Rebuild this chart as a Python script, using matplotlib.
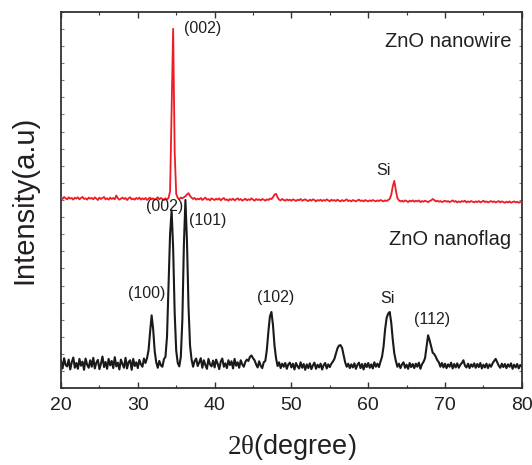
import numpy as np
import matplotlib
matplotlib.use("Agg")
import matplotlib.pyplot as plt
from matplotlib.ticker import MultipleLocator

plt.rcParams['font.family'] = ['Liberation Sans', 'DejaVu Sans']
plt.rcParams['mathtext.fontset'] = 'custom'
plt.rcParams['mathtext.rm'] = 'Liberation Serif'

# 2theta sampling (degrees), step 0.2 from 20 to 80
two_theta = np.linspace(20, 80, 301)

# ZnO nanoflag (black), intensity in arbitrary units
nanoflag = [
    80, 58, 88, 68, 64, 84, 55, 76, 90, 60,        # 20
    74, 57, 86, 66, 78, 54, 87, 69, 60, 82,        # 22
    63, 89, 58, 75, 83, 56, 72, 93, 62, 77,        # 24
    57, 86, 67, 80, 59, 91, 64, 75, 55, 84,        # 26
    71, 60, 89, 58, 77, 82, 54, 86, 65, 76,        # 28
    59, 83, 70, 63, 87, 74, 88, 112, 165, 213,     # 30
    172, 108, 76, 60, 80, 67, 63, 85, 92, 150,     # 32
    300, 450, 520, 410, 220, 110, 74, 64, 92, 200, # 34
    420, 550, 430, 240, 125, 84, 63, 80, 87, 65,   # 36
    76, 88, 60, 82, 68, 57, 86, 70, 64, 81,        # 38
    61, 84, 72, 56, 78, 87, 63, 73, 59, 82,        # 40
    68, 79, 58, 86, 66, 76, 60, 82, 70, 63,        # 42
    77, 84, 80, 92, 96, 88, 82, 70, 61, 79,        # 44
    66, 59, 76, 80, 112, 165, 210, 223, 185, 125,  # 46
    88, 65, 76, 59, 72, 63, 74, 57, 70, 75,        # 48
    61, 72, 55, 74, 64, 58, 76, 60, 71, 54,        # 50
    70, 59, 73, 56, 67, 75, 57, 69, 61, 72,        # 52
    55, 68, 74, 58, 70, 62, 72, 78, 86, 102,       # 54
    117, 125, 126, 118, 97, 76, 63, 72, 59, 70,    # 56
    61, 73, 57, 69, 75, 59, 71, 55, 72, 62,        # 58
    74, 60, 70, 58, 76, 63, 72, 62, 78, 92,        # 60
    122, 172, 206, 218, 223, 192, 142, 102, 80, 63,# 62
    72, 59, 70, 76, 60, 69, 57, 74, 62, 71,        # 64
    59, 72, 63, 75, 57, 70, 77, 88, 122, 155,      # 66
    140, 122, 104, 100, 92, 82, 76, 63, 74, 61,    # 68
    72, 59, 70, 63, 75, 58, 71, 61, 73, 60,        # 70
    69, 74, 82, 66, 61, 72, 59, 70, 63, 73,        # 72
    60, 71, 62, 74, 58, 69, 61, 72, 59, 70,        # 74
    63, 73, 80, 86, 76, 66, 60, 72, 62, 71,        # 76
    59, 70, 63, 73, 57, 69, 61, 71, 58, 68,        # 78
    64,                                            # 80
]

# ZnO nanowire (red), intensity in arbitrary units (offset stacked)
nanowire = [
    557, 553, 559, 555, 552, 558, 554, 556, 551, 557,   # 20
    554, 558, 552, 556, 559, 553, 555, 551, 557, 554,   # 22
    556, 552, 558, 554, 550, 557, 553, 556, 559, 552,   # 24
    555, 551, 557, 553, 556, 552, 563, 555, 551, 554,   # 26
    557, 553, 556, 550, 555, 558, 552, 554, 551, 556,   # 28
    553, 557, 551, 555, 552, 556, 550, 554, 557, 552,   # 30
    555, 551, 554, 558, 552, 556, 553, 550, 555, 552,   # 32
    556, 575, 820, 1050, 690, 568, 556, 553, 557, 555,  # 34
    558, 561, 566, 570, 562, 557, 553, 556, 551, 554,   # 36
    552, 556, 550, 554, 557, 551, 553, 549, 555, 552,   # 38
    550, 554, 551, 555, 549, 553, 556, 550, 552, 548,   # 40
    553, 550, 554, 549, 552, 555, 550, 553, 548, 551,   # 42
    554, 549, 552, 550, 555, 551, 548, 553, 550, 552,   # 44
    549, 553, 551, 548, 552, 550, 554, 553, 558, 566,   # 46
    568, 558, 551, 549, 553, 550, 548, 552, 549, 551,   # 48
    548, 552, 550, 547, 551, 549, 553, 548, 550, 552,   # 50
    549, 547, 551, 548, 552, 550, 546, 550, 548, 551,   # 52
    547, 550, 548, 552, 549, 546, 551, 548, 550, 547,   # 54
    551, 548, 546, 550, 547, 549, 552, 547, 549, 546,   # 56
    550, 548, 546, 549, 551, 547, 549, 546, 550, 548,   # 58
    546, 549, 547, 550, 548, 546, 549, 547, 550, 548,   # 60
    546, 549, 547, 550, 553, 565, 590, 606, 578, 556,   # 62
    549, 546, 548, 545, 549, 547, 544, 548, 546, 549,   # 64
    545, 548, 546, 549, 544, 547, 545, 548, 546, 544,   # 66
    547, 549, 553, 550, 546, 548, 545, 547, 544, 546,   # 68
    548, 545, 547, 544, 546, 549, 545, 547, 543, 546,   # 70
    544, 547, 545, 548, 543, 546, 544, 547, 545, 543,   # 72
    546, 544, 547, 543, 545, 548, 544, 546, 543, 545,   # 74
    547, 544, 546, 543, 545, 547, 543, 546, 544, 542,   # 76
    545, 543, 546, 542, 544, 546, 543, 545, 542, 544,   # 78
    543,                                                # 80
]

# Peak annotations
flag_labels = ["(100)", "(002)", "(101)", "(102)", "(112)"]
flag_label_x = [31.1, 33.5, 39.1, 47.9, 68.3]
flag_label_y = [278, 530, 491, 264, 202]
wire_labels = ["(002)"]
wire_label_x = [38.4]
wire_label_y = [1052]

text_col = '#231f20'

fig = plt.figure(figsize=(5.32, 4.65), dpi=100)
ax = fig.add_axes([0.1147, 0.1649, 0.9808 - 0.1147, 0.9748 - 0.1649])

ax.plot(two_theta, nanoflag, color='#1a1a1a', lw=1.5, zorder=2)
ax.plot(two_theta, nanowire, color='#ee1c25', lw=1.3, zorder=3)

ax.set_xlim(20, 80)
ax.set_ylim(0, 1100)

ax.xaxis.set_major_locator(MultipleLocator(10))
ax.xaxis.set_minor_locator(MultipleLocator(5))
ax.yaxis.set_major_locator(MultipleLocator(50))
ax.tick_params(axis='x', which='major', direction='in', length=4, width=1,
               top=True, labelsize=14, pad=6, colors='#333333', labelcolor=text_col)
ax.tick_params(axis='x', which='minor', direction='in', length=2.5, width=0.8,
               top=True, colors='#333333')
ax.tick_params(axis='y', which='major', direction='in', length=2, width=0.8,
               right=True, left=True, labelleft=False, colors='#777777')
for s in ax.spines.values():
    s.set_color('#333333')
    s.set_linewidth(1.3)

for lab, x, y in zip(flag_labels, flag_label_x, flag_label_y):
    ax.text(x, y, lab, ha='center', va='center', fontsize=11.5, color=text_col)
for lab, x, y in zip(wire_labels, wire_label_x, wire_label_y):
    ax.text(x, y, lab, ha='center', va='center', fontsize=11.5, color=text_col)
ax.text(62.5, 248, "Si", ha='center', va='baseline', fontsize=11.5, color=text_col)
ax.text(62.0, 623, "Si", ha='center', va='baseline', fontsize=11.5, color=text_col)

ax.text(78.6, 997, "ZnO nanowire", ha='right', va='baseline', fontsize=14.5, color=text_col)
ax.text(78.6, 418, "ZnO nanoflag", ha='right', va='baseline', fontsize=14.5, color=text_col)

ax.set_xlabel(r"$\mathrm{2θ}$(degree)", fontsize=19.5, color=text_col, labelpad=13)
ax.set_ylabel("Intensity(a.u)", fontsize=21, color=text_col, labelpad=16)

fig.savefig("out.png", dpi=100)
